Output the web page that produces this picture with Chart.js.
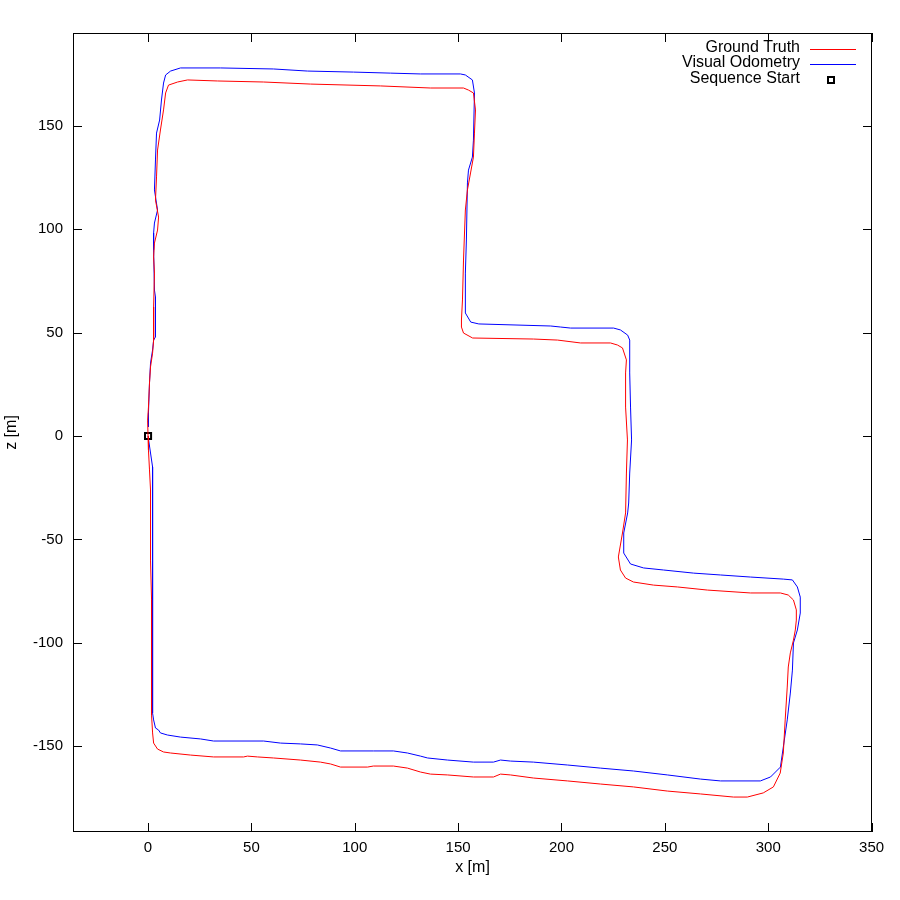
<!DOCTYPE html>
<html lang="en">
<head>
  <meta charset="UTF-8">
  <title>Trajectory - Ground Truth vs Visual Odometry</title>
  <script src="https://cdn.jsdelivr.net/npm/chart.js"></script>
  <style>
    body { margin: 0; background: #fff; }
    #wrap { width: 900px; height: 900px; }
  </style>
</head>
<body>
  <div id="wrap"><canvas id="trajChart" width="900" height="900"></canvas></div>
  <script>
    // ground truth path (x, z in metres)
    const gtX = [0, 0.2, 0.7, 1.2, 1.2, 1.7, 1.7, 1.7, 2.2, 2.7, 4.6, 7.5, 10.9, 20.6, 31.7, 46.2, 48.1, 53, 60.7, 73.7,
      83.4, 88.3, 93.1, 106.2, 109, 118.7, 125.5, 131.8, 136.6, 144.8, 157.4, 167.1, 170.5, 175.3, 186.4, 202.9, 218.8, 234.8, 251.2, 267.2,
      283.2, 289.9, 297.6, 302.5, 305.8, 307.3, 308.2, 309.2, 309.7, 310.7, 312.2, 313.1, 313.6, 313.6, 312.2, 309.7, 305.9, 291.4, 270.6, 256.1,
      244.5, 234.8, 231, 228.5, 227.5, 229.5, 231, 231.4, 231.9, 231, 231, 231.4, 229.5, 227.1, 223.7, 209.2, 198.1, 186.5, 157, 152.6,
      151.6, 151.6, 152.1, 152.6, 153.5, 154.5, 156, 157.4, 157.9, 158.4, 157.4, 155, 152.6, 136.6, 112.4, 78.6, 55.9, 33.6, 19.1, 14.3,
      9.9, 8.5, 7.5, 6, 4.6, 4.1, 3.6, 5.1, 4.6, 3.1, 2.7, 3.1, 2.7, 2.7, 2.2, 1.2, 0.7, 0.2, -0.2, 0];
    const gtY = [0, -6.8, -16.4, -26.1, -60, -79.3, -127.7, -135, -143.6, -148.5, -151.4, -152.8, -153.3, -154.3, -155.2, -155.2, -154.8, -155.2, -155.7, -156.7,
      -157.7, -158.6, -160.1, -160.1, -159.6, -159.6, -160.6, -162.5, -163.5, -163.9, -164.9, -164.9, -163.5, -163.9, -165.4, -166.8, -168.3, -169.7, -171.7, -173.1,
      -174.6, -174.6, -172.6, -169.7, -163, -153.3, -137.3, -121.4, -111.7, -104.9, -98.7, -93.8, -89, -84.1, -79.3, -76.9, -75.9, -75.9, -74.5, -73,
      -72.1, -70.6, -68.7, -64.8, -58.5, -46.9, -37.2, -17.9, -1.9, 14, 30.5, 36.8, 42.6, 44, 45, 45, 46.4, 46.9, 47.4, 49.8,
      52.7, 56.1, 65.8, 85.1, 109.3, 119, 127.2, 134.9, 146.5, 157.7, 165.9, 167.3, 168.3, 168.3, 169.3, 170.2, 171.2, 171.7, 172.2, 171.2,
      169.7, 165.9, 157.7, 148, 138.3, 125.3, 114.1, 105.9, 99.6, 93.3, 86.6, 78.8, 62.4, 46.4, 40.1, 33.4, 25.6, 14, 7.7, 0];

    // visual odometry path
    const voX = [0, 2.2, 2.2, 2.2, 2.2, 2.7, 3.6, 5.1, 6, 9.4, 15.7, 25.4, 31.7, 55.9, 64.1, 73.7, 81.9, 88.3, 93.1, 109,
      118.7, 125.5, 131.8, 135.2, 144.8, 157.4, 167.1, 170.5, 175.3, 186.4, 202.9, 218.8, 234.8, 251.2, 267.2, 276.9, 296.2, 301.1, 305.9, 307.3,
      309.2, 310.7, 311.7, 312.2, 314.1, 315.5, 315.5, 314.1, 311.7, 307.3, 291.4, 276.9, 263.9, 249.4, 239.7, 233.4, 230.1, 230.1, 232, 232.5,
      233, 233.9, 233.4, 233, 233, 232, 228.5, 225.2, 204.4, 199.6, 194.8, 160, 156.1, 153.5, 153.5, 154, 154.5, 155, 156.9, 157.4,
      157.9, 156.9, 153.5, 151.1, 131.7, 117.2, 99.4, 77.1, 60.7, 35.1, 15.7, 10.9, 8.5, 7.5, 6.5, 5.6, 4.1, 3.6, 3.1, 4.6,
      3.1, 2.7, 2.7, 3.1, 3.6, 3.6, 2.7, 2.2, 1.2, 0.7, 0.2, 0.2];
    const voY = [0, -15, -56.6, -93.8, -134, -137.3, -141.2, -142.2, -143.6, -144.6, -145.6, -146.5, -147.5, -147.5, -148.5, -148.9, -149.4, -150.9, -152.3, -152.3,
      -152.3, -153.3, -154.8, -155.7, -156.7, -157.7, -157.7, -156.7, -157.2, -157.7, -159.1, -160.6, -162, -163.9, -165.9, -166.8, -166.8, -164.9, -160.1, -150.4,
      -137.3, -124.3, -113.2, -100.1, -93.8, -85.6, -77.9, -73, -69.6, -69.2, -68.2, -67.2, -66.3, -64.8, -63.8, -61.9, -56.6, -46.9, -37.2, -32.4,
      -17.9, -1.9, 14, 30.5, 46.4, 48.8, 51.3, 52.2, 52.2, 52.7, 53.2, 54.2, 55.1, 59.5, 78.8, 94.8, 122.4, 128.6, 134.9, 143.1,
      165.9, 172.2, 174.6, 175.1, 175.1, 175.5, 176, 176.5, 177.5, 178, 178, 176.5, 174.6, 170.7, 162.5, 152.8, 146.5, 133.5, 119, 109.3,
      103, 98.2, 90, 70.6, 67.2, 47.9, 46.4, 41.6, 35.3, 25.6, 11.1, 4.4];

    const startX = [0];
    const startY = [0];

    const xTicks = [0, 50, 100, 150, 200, 250, 300, 350];
    const yTicks = [-150, -100, -50, 0, 50, 100, 150];

    const toPoints = (xs, ys) => xs.map((x, i) => ({ x: x, y: ys[i] }));
    const FONT = "'Liberation Sans', Arial, sans-serif";

    // gnuplot style frame: border, inward ticks on all sides, axis titles, key
    const gnuFrame = {
      id: 'gnuFrame',
      afterDraw(chart) {
        const ctx = chart.ctx;
        const a = chart.chartArea;
        const sx = chart.scales.x, sy = chart.scales.y;
        ctx.save();
        ctx.strokeStyle = '#000';
        ctx.lineWidth = 1;
        ctx.strokeRect(Math.round(a.left) + 0.5, Math.round(a.top) + 0.5,
          Math.round(a.right - a.left) - 1, Math.round(a.bottom - a.top) - 1);
        ctx.beginPath();
        xTicks.forEach(v => {
          const p = Math.round(sx.getPixelForValue(v)) + 0.5;
          ctx.moveTo(p, a.bottom); ctx.lineTo(p, a.bottom - 9);
          ctx.moveTo(p, a.top); ctx.lineTo(p, a.top + 9);
        });
        yTicks.forEach(v => {
          const p = Math.round(sy.getPixelForValue(v)) + 0.5;
          ctx.moveTo(a.left, p); ctx.lineTo(a.left + 9, p);
          ctx.moveTo(a.right, p); ctx.lineTo(a.right - 9, p);
        });
        ctx.stroke();

        ctx.fillStyle = '#000';
        ctx.font = '16px ' + FONT;
        ctx.textAlign = 'center';
        ctx.textBaseline = 'middle';
        ctx.fillText('x [m]', (a.left + a.right) / 2, 868);
        ctx.save();
        ctx.translate(12, (a.top + a.bottom) / 2);
        ctx.rotate(-Math.PI / 2);
        ctx.fillText('z [m]', 0, 0);
        ctx.restore();

        // key
        const keys = [
          { label: 'Ground Truth', color: '#ff0000', y: 48 },
          { label: 'Visual Odometry', color: '#0000ff', y: 63 },
          { label: 'Sequence Start', color: null, y: 79 }
        ];
        ctx.textAlign = 'right';
        keys.forEach(k => {
          ctx.fillStyle = '#000';
          ctx.fillText(k.label, 800, k.y);
          if (k.color) {
            ctx.strokeStyle = k.color;
            ctx.beginPath();
            ctx.moveTo(810, k.y + 1.5);
            ctx.lineTo(856, k.y + 1.5);
            ctx.stroke();
          } else {
            ctx.strokeStyle = '#000';
            ctx.lineWidth = 2;
            ctx.strokeRect(828, k.y - 2, 6, 6);
            ctx.lineWidth = 1;
          }
        });
        ctx.restore();
      }
    };

    new Chart(document.getElementById('trajChart'), {
      type: 'scatter',
      data: {
        datasets: [
          {
            label: 'Ground Truth',
            data: toPoints(gtX, gtY),
            showLine: true,
            borderColor: '#ff0000',
            borderWidth: 1,
            pointRadius: 0,
            tension: 0
          },
          {
            label: 'Visual Odometry',
            data: toPoints(voX, voY),
            showLine: true,
            borderColor: '#0000ff',
            borderWidth: 1,
            pointRadius: 0,
            tension: 0
          },
          {
            label: 'Sequence Start',
            data: toPoints(startX, startY),
            showLine: false,
            pointStyle: 'rect',
            pointRadius: 4.3,
            pointBorderWidth: 2,
            borderColor: '#000',
            backgroundColor: 'rgba(255,255,255,0)'
          }
        ]
      },
      options: {
        responsive: false,
        animation: false,
        devicePixelRatio: 1,
        layout: { padding: { top: 33, right: 28, left: 0, bottom: 0 } },
        plugins: {
          legend: { display: false },
          tooltip: { enabled: false }
        },
        events: [],
        scales: {
          x: {
            type: 'linear',
            min: -36.3,
            max: 350.2,
            afterBuildTicks: s => { s.ticks = xTicks.map(v => ({ value: v })); },
            afterFit: s => { s.height = 68; },
            grid: { display: false, drawTicks: false },
            border: { display: false },
            ticks: { color: '#000', padding: 7, font: { size: 15, family: FONT }, maxRotation: 0 }
          },
          y: {
            type: 'linear',
            min: -191.5,
            max: 194.9,
            afterBuildTicks: s => { s.ticks = yTicks.map(v => ({ value: v })); },
            afterFit: s => { s.width = 73; },
            grid: { display: false, drawTicks: false },
            border: { display: false },
            ticks: { color: '#000', padding: 10, font: { size: 15, family: FONT } }
          }
        }
      },
      plugins: [gnuFrame]
    });
  </script>
</body>
</html>
